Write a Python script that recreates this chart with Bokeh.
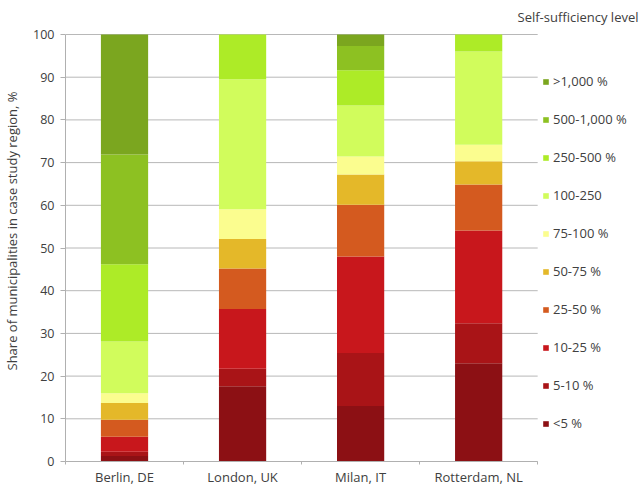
from bokeh.plotting import figure
from bokeh.models import ColumnDataSource, Legend, LegendItem, FixedTicker, Range1d, Label
from bokeh.embed import file_html
from bokeh.resources import INLINE

# ---- data ----
cities = ["Berlin, DE", "London, UK", "Milan, IT", "Rotterdam, NL"]
levels = ["<5 %", "5-10 %", "10-25 %", "25-50 %", "50-75 %", "75-100 %",
          "100-250", "250-500 %", "500-1,000 %", ">1,000 %"]
lt5 = [1.3, 17.6, 13.0, 23.0]
p5_10 = [1.0, 4.1, 12.4, 9.4]
p10_25 = [3.5, 14.0, 22.6, 21.7]
p25_50 = [4.0, 9.5, 12.1, 10.8]
p50_75 = [3.9, 6.9, 7.1, 5.4]
p75_100 = [2.3, 7.0, 4.2, 3.9]
p100_250 = [12.1, 30.4, 12.0, 21.8]
p250_500 = [18.1, 10.5, 8.2, 4.0]
p500_1000 = [25.7, 0.0, 5.7, 0.0]
gt1000 = [28.1, 0.0, 2.7, 0.0]
y_ticks = [0, 10, 20, 30, 40, 50, 60, 70, 80, 90, 100]
colors = ["#8c1014", "#a91417", "#c8171c", "#d45a1f", "#e4b829", "#fbfd8f",
          "#d1fc5c", "#adeb27", "#8dc122", "#7ba61f"]

keys = ["lt5", "p5_10", "p10_25", "p25_50", "p50_75", "p75_100",
        "p100_250", "p250_500", "p500_1000", "gt1000"]
series = [lt5, p5_10, p10_25, p25_50, p50_75, p75_100,
          p100_250, p250_500, p500_1000, gt1000]

ncat = len(cities)
xpos = [i + 0.5 for i in range(ncat)]
data = {"x": xpos}
for k, s in zip(keys, series):
    data[k] = s
source = ColumnDataSource(data)

grid_src = ColumnDataSource(dict(y=y_ticks, x0=[0] * len(y_ticks), x1=[ncat] * len(y_ticks)))

FONT = "Open Sans"
TXT = "#404040"
GRAY = "#b0b0b0"

W, H = 639, 488
LEFT, BOTTOM = 64, 27
FRAME_W, FRAME_H = W - LEFT, H - BOTTOM
CAT_W = 473   # pixel width of the category area
TOP_PAD = 34  # pixels above the 100 line

p = figure(width=W, height=H, output_backend="svg", toolbar_location=None,
           x_range=Range1d(0, ncat * FRAME_W / CAT_W),
           y_range=Range1d(0, 100 * FRAME_H / (FRAME_H - TOP_PAD)),
           min_border_left=LEFT, min_border_right=0, min_border_top=0,
           min_border_bottom=BOTTOM)
p.outline_line_color = None
p.background_fill_color = "white"
p.xgrid.grid_line_color = None
p.ygrid.grid_line_color = None

# horizontal gridlines limited to the category area
p.segment(x0="x0", x1="x1", y0="y", y1="y", source=grid_src,
          line_color="#b8b8b8", line_width=1)

rs = p.vbar_stack(keys, x="x", width=0.4, source=source,
                  fill_color=colors, line_color=None)

# axes
p.xaxis.bounds = (0, ncat)
p.xaxis.ticker = FixedTicker(ticks=xpos, minor_ticks=list(range(ncat + 1)))
p.xaxis.major_label_overrides = {x: c for x, c in zip(xpos, cities)}
p.xaxis.major_tick_out = 0
p.xaxis.major_tick_in = 0
p.xaxis.minor_tick_out = 3
p.xaxis.minor_tick_in = 0
p.xaxis.minor_tick_line_color = GRAY
p.xaxis.major_label_standoff = 3
p.xaxis.axis_line_color = GRAY

p.yaxis.bounds = (0, 100)
p.yaxis.ticker = FixedTicker(ticks=y_ticks)
p.yaxis.major_tick_out = 5
p.yaxis.major_tick_in = 0
p.yaxis.minor_tick_line_color = None
p.yaxis.major_tick_line_color = GRAY
p.yaxis.axis_line_color = GRAY
p.yaxis.major_label_standoff = 6
p.yaxis.axis_label = "Share of municipalities in case study region, %"
p.yaxis.axis_label_standoff = 9
p.yaxis.axis_label_text_font_style = "normal"

for ax in (p.xaxis, p.yaxis):
    ax.major_label_text_font = FONT
    ax.major_label_text_color = TXT
    ax.axis_label_text_font = FONT
    ax.axis_label_text_font_size = "13px"
    ax.axis_label_text_color = TXT
p.xaxis.major_label_text_font_size = "13px"
p.yaxis.major_label_text_font_size = "12.5px"

# legend
items = [LegendItem(label=levels[i], renderers=[rs[i]]) for i in reversed(range(len(levels)))]
legend = Legend(items=items, location=(477, 28))
legend.border_line_color = None
legend.background_fill_alpha = 0
legend.padding = 0
legend.margin = 0
legend.glyph_width = 7
legend.glyph_height = 7
legend.label_height = 20
legend.label_standoff = 4
legend.spacing = 18
legend.label_text_font = FONT
legend.label_text_font_size = "13px"
legend.label_text_color = TXT
p.add_layout(legend, "center")

ttl = Label(x=452, y=FRAME_H - 16, x_units="screen", y_units="screen",
            text="Self-sufficiency level", text_font=FONT,
            text_font_size="13px", text_color=TXT, text_baseline="middle")
p.add_layout(ttl)

open("out.html", "w").write(file_html(p, INLINE))
